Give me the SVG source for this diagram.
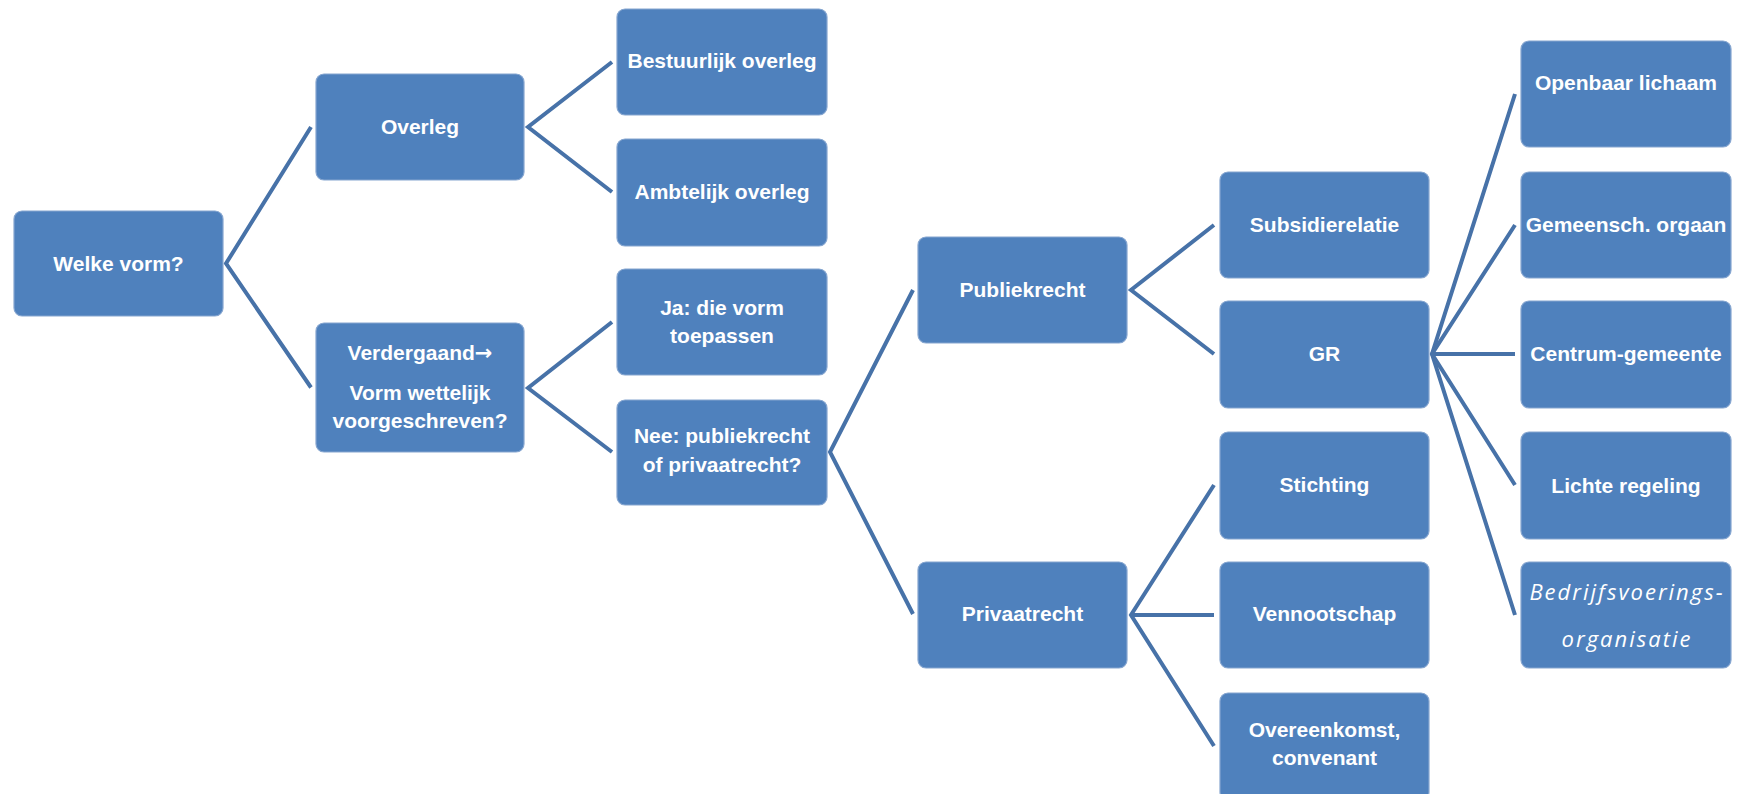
<svg xmlns="http://www.w3.org/2000/svg" width="1740" height="794" viewBox="0 0 1740 794">
<style>
.box{fill:#4F81BD;stroke:#86A6D0;stroke-width:1.2}
.t{font-family:"Liberation Sans",Arial,sans-serif;font-weight:bold;font-size:21px;fill:#FFFFFF;text-anchor:middle}
.ar{font-family:"DejaVu Sans",sans-serif;font-weight:bold}
.ti{font-family:"Open Sans","Liberation Sans",sans-serif;font-style:italic;font-weight:normal;font-size:22px;letter-spacing:2px;fill:#FFFFFF;text-anchor:middle}
.c{fill:none;stroke:#4772A8;stroke-width:4;stroke-linejoin:miter}
</style>
<rect width="1740" height="794" fill="#FFFFFF"/>
<g id="connectors">
<polyline class="c" points="311,127 226,263.5 311,387.5"/>
<polyline class="c" points="612,62 528,127 612,192"/>
<polyline class="c" points="612,322 528,388 612,452"/>
<polyline class="c" points="913,290 830,452 913,614"/>
<polyline class="c" points="1214,225 1131,290 1214,354"/>
<polyline class="c" points="1214,485 1131,615 1214,746"/>
<line class="c" x1="1131" y1="615" x2="1214" y2="615"/>
<polyline class="c" points="1515,94 1432,354 1515,615"/>
<polyline class="c" points="1515,225 1432,354 1515,485"/>
<line class="c" x1="1432" y1="354" x2="1515" y2="354"/>
</g>
<g id="n-welke"><rect class="box" x="14" y="211" width="209" height="105" rx="8"/><text class="t" x="118.5" y="271">Welke vorm?</text></g>
<g id="n-overleg"><rect class="box" x="316" y="74" width="208" height="106" rx="8"/><text class="t" x="420" y="134">Overleg</text></g>
<g id="n-verdergaand"><rect class="box" x="316" y="323" width="208" height="129" rx="8"/><text class="t" x="420" y="360">Verdergaand<tspan class="ar">→</tspan></text><text class="t" x="420" y="400">Vorm wettelijk</text><text class="t" x="420" y="428">voorgeschreven?</text></g>
<g id="n-bestuurlijk"><rect class="box" x="617" y="9" width="210" height="106" rx="8"/><text class="t" x="722" y="68">Bestuurlijk overleg</text></g>
<g id="n-ambtelijk"><rect class="box" x="617" y="139" width="210" height="107" rx="8"/><text class="t" x="722" y="199">Ambtelijk overleg</text></g>
<g id="n-ja"><rect class="box" x="617" y="269" width="210" height="106" rx="8"/><text class="t" x="722" y="315">Ja: die vorm</text><text class="t" x="722" y="343">toepassen</text></g>
<g id="n-nee"><rect class="box" x="617" y="400" width="210" height="105" rx="8"/><text class="t" x="722" y="443">Nee: publiekrecht</text><text class="t" x="722" y="472">of privaatrecht?</text></g>
<g id="n-publiekrecht"><rect class="box" x="918" y="237" width="209" height="106" rx="8"/><text class="t" x="1022.5" y="297">Publiekrecht</text></g>
<g id="n-privaatrecht"><rect class="box" x="918" y="562" width="209" height="106" rx="8"/><text class="t" x="1022.5" y="621">Privaatrecht</text></g>
<g id="n-subsidierelatie"><rect class="box" x="1220" y="172" width="209" height="106" rx="8"/><text class="t" x="1324.5" y="232">Subsidierelatie</text></g>
<g id="n-gr"><rect class="box" x="1220" y="301" width="209" height="107" rx="8"/><text class="t" x="1324.5" y="361">GR</text></g>
<g id="n-stichting"><rect class="box" x="1220" y="432" width="209" height="107" rx="8"/><text class="t" x="1324.5" y="492">Stichting</text></g>
<g id="n-vennootschap"><rect class="box" x="1220" y="562" width="209" height="106" rx="8"/><text class="t" x="1324.5" y="621">Vennootschap</text></g>
<g id="n-overeenkomst"><rect class="box" x="1220" y="693" width="209" height="107" rx="8"/><text class="t" x="1324.5" y="737">Overeenkomst,</text><text class="t" x="1324.5" y="765">convenant</text></g>
<g id="n-openbaar"><rect class="box" x="1521" y="41" width="210" height="106" rx="8"/><text class="t" x="1626" y="90">Openbaar lichaam</text></g>
<g id="n-gemeensch"><rect class="box" x="1521" y="172" width="210" height="106" rx="8"/><text class="t" x="1626" y="232">Gemeensch. orgaan</text></g>
<g id="n-centrum"><rect class="box" x="1521" y="301" width="210" height="107" rx="8"/><text class="t" x="1626" y="361">Centrum-gemeente</text></g>
<g id="n-lichte"><rect class="box" x="1521" y="432" width="210" height="107" rx="8"/><text class="t" x="1626" y="493">Lichte regeling</text></g>
<g id="n-bedrijfs"><rect class="box" x="1521" y="562" width="210" height="106" rx="8"/><text class="ti" x="1627" y="600">Bedrijfsvoerings-</text><text class="ti" x="1627" y="647">organisatie</text></g>
</svg>
